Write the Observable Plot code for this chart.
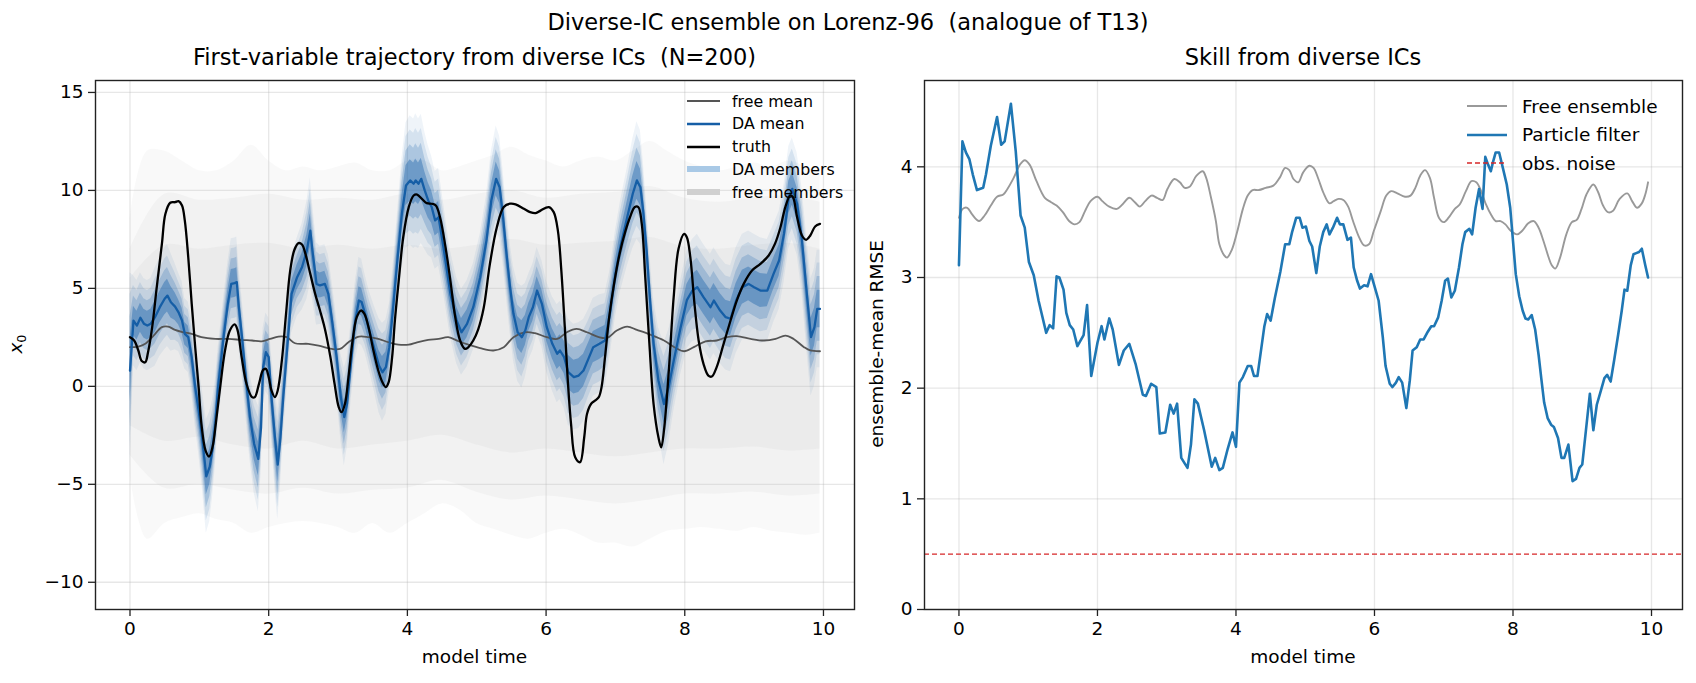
<!DOCTYPE html>
<html>
<head>
<meta charset="utf-8">
<script src="https://cdn.jsdelivr.net/npm/d3@7"></script>
<script src="https://cdn.jsdelivr.net/npm/@observablehq/plot@0.6"></script>
<style>
  body { margin: 0; background: #fff; font-family: "DejaVu Sans", sans-serif; }
  #fig { position: relative; width: 1696px; height: 683px; overflow: hidden; background: #fff; }
  #fig svg.panel { position: absolute; top: 0; }
  .txt { position: absolute; white-space: pre; color: #000; line-height: 1; transform: translate(-50%, -50%); }
  .rot { transform: translate(-50%, -50%) rotate(-90deg); }
  .leg { position: absolute; display: flex; align-items: center; height: 24px; white-space: pre; color: #000; }
  .leg svg { display: block; }
</style>
</head>
<body>
<div id="fig"></div>
<script>
// ---------- Lorenz-96 first variable: truth, DA ensemble, free ensemble ----------
// [time, value]
const truth = [[0,2.51],[0.06,2.34],[0.12,1.83],[0.17,1.29],[0.22,1.23],[0.26,1.74],[0.32,3.02],[0.38,4.89],[0.46,7.27],[0.51,8.80],[0.58,9.37],[0.65,9.40],[0.70,9.45],[0.75,9.23],[0.79,8.47],[0.84,6.59],[0.89,4.21],[0.94,2.00],[0.99,-0.05],[1.03,-1.92],[1.09,-3.28],[1.14,-3.58],[1.19,-3.10],[1.24,-1.83],[1.30,-0.05],[1.37,1.83],[1.44,2.85],[1.51,3.16],[1.55,2.88],[1.61,1.49],[1.68,0.13],[1.76,-0.55],[1.80,-0.55],[1.86,0.13],[1.92,0.84],[1.96,0.89],[2.00,0.47],[2.04,-0.21],[2.09,-0.55],[2.13,-0.21],[2.19,1.32],[2.25,3.70],[2.31,5.91],[2.37,6.96],[2.43,7.31],[2.48,7.24],[2.53,6.76],[2.60,5.74],[2.67,4.72],[2.74,3.87],[2.81,2.94],[2.89,1.49],[2.95,0.13],[3.01,-1.06],[3.05,-1.32],[3.10,-0.89],[3.15,0.47],[3.21,2.34],[3.27,3.53],[3.33,3.87],[3.38,3.70],[3.44,3.02],[3.51,1.83],[3.58,0.81],[3.64,0.21],[3.69,-0.04],[3.73,0.21],[3.78,1.49],[3.82,3.36],[3.88,5.57],[3.94,7.61],[4.02,9.15],[4.09,9.74],[4.14,9.79],[4.21,9.57],[4.28,9.35],[4.35,9.32],[4.41,9.23],[4.47,8.64],[4.55,7.10],[4.62,5.40],[4.69,3.53],[4.76,2.34],[4.83,1.91],[4.88,2.00],[4.95,2.34],[5.02,2.90],[5.10,4.00],[5.19,6.25],[5.29,8.12],[5.39,9.15],[5.48,9.32],[5.56,9.29],[5.68,9.06],[5.77,8.89],[5.85,8.84],[5.92,8.97],[6.04,9.15],[6.11,8.89],[6.17,7.95],[6.22,5.91],[6.27,3.02],[6.31,0.47],[6.36,-1.91],[6.42,-3.62],[6.49,-3.87],[6.55,-2.60],[6.59,-1.41],[6.65,-0.89],[6.71,-0.72],[6.76,-0.55],[6.80,-0.04],[6.85,1.49],[6.91,3.53],[6.98,5.23],[7.06,6.76],[7.14,7.87],[7.21,8.63],[7.28,9.15],[7.33,9.15],[7.38,8.29],[7.43,5.57],[7.49,2.17],[7.55,-0.89],[7.62,-2.60],[7.66,-3.11],[7.70,-2.25],[7.77,0.81],[7.84,4.55],[7.91,7.02],[7.99,7.78],[8.03,7.61],[8.08,6.59],[8.14,4.21],[8.20,2.34],[8.27,1.15],[8.34,0.55],[8.39,0.50],[8.46,0.98],[8.56,2.17],[8.66,3.36],[8.75,4.38],[8.85,5.23],[8.97,5.91],[9.09,6.25],[9.21,6.68],[9.30,7.27],[9.38,8.12],[9.45,9.15],[9.52,9.74],[9.56,9.65],[9.62,8.63],[9.69,7.70],[9.75,7.48],[9.81,7.70],[9.88,8.16],[9.95,8.29]];

// [time, DA ensemble mean, DA member half-spread]
const daTrack = [[0,0.8,5.0],[0.05,3.35,2.3],[0.10,3.10,2.3],[0.15,3.50,2.3],[0.20,3.20,2.3],[0.25,3.10,2.3],[0.30,3.20,2.3],[0.36,3.53,2.5],[0.43,4.04,2.5],[0.50,4.47,2.6],[0.54,4.63,2.6],[0.59,4.29,2.5],[0.65,4.07,2.2],[0.70,3.78,2.0],[0.75,3.36,2.0],[0.79,2.68,1.8],[0.84,2.51,1.8],[0.89,1.49,1.9],[0.94,-0.04,2.0],[0.99,-1.23,2.2],[1.04,-2.60,2.5],[1.10,-4.60,2.9],[1.15,-4.10,2.8],[1.19,-3.20,2.5],[1.23,-1.92,2.2],[1.27,-0.04,2.0],[1.35,2.51,2.0],[1.41,4.21,2.1],[1.46,5.23,2.3],[1.51,5.27,2.3],[1.54,5.32,2.3],[1.57,4.04,2.1],[1.62,2.34,2.0],[1.67,0.47,2.0],[1.73,-1.57,2.2],[1.79,-2.94,2.5],[1.85,-3.70,2.7],[1.89,-2.09,2.4],[1.92,0.98,2.0],[1.96,1.74,2.0],[2.00,1.49,2.0],[2.04,-0.55,2.2],[2.09,-2.60,2.6],[2.13,-4.00,2.8],[2.17,-2.60,2.5],[2.21,-0.55,2.1],[2.28,2.51,2.0],[2.33,4.72,2.0],[2.41,5.57,2.0],[2.48,6.08,2.2],[2.55,6.93,2.5],[2.60,7.95,2.7],[2.63,6.93,2.5],[2.69,5.23,2.1],[2.74,5.15,2.0],[2.81,5.23,2.0],[2.86,4.72,2.0],[2.92,3.19,2.0],[2.98,1.49,2.0],[3.04,-0.55,2.2],[3.09,-1.57,2.5],[3.13,-0.89,2.3],[3.19,1.32,2.0],[3.25,3.36,2.0],[3.30,4.38,2.2],[3.34,4.30,2.2],[3.39,3.70,2.0],[3.45,2.85,2.0],[3.53,1.83,2.2],[3.59,1.06,2.4],[3.64,0.72,2.5],[3.69,0.98,2.4],[3.74,2.00,2.2],[3.80,4.21,2.2],[3.86,6.59,2.4],[3.92,8.80,2.8],[3.98,10.25,3.2],[4.04,10.51,3.3],[4.09,10.34,3.3],[4.12,10.51,3.4],[4.16,10.34,3.3],[4.20,10.59,3.3],[4.25,10.00,3.0],[4.30,9.49,2.8],[4.35,9.15,2.6],[4.40,8.47,2.5],[4.45,8.63,2.5],[4.52,7.10,2.3],[4.62,4.72,2.2],[4.71,3.36,2.2],[4.78,2.76,2.2],[4.86,3.19,2.2],[4.95,4.04,2.2],[5.05,5.57,2.2],[5.14,7.44,2.3],[5.21,9.48,2.5],[5.28,10.59,2.7],[5.33,10.16,2.6],[5.38,8.63,2.4],[5.43,6.76,2.3],[5.48,5.06,2.3],[5.53,3.70,2.4],[5.59,2.76,2.5],[5.65,2.51,2.6],[5.70,2.85,2.4],[5.75,3.53,2.2],[5.81,4.04,2.2],[5.87,4.89,2.2],[5.94,4.21,2.2],[6.01,3.02,2.3],[6.09,2.17,2.4],[6.16,1.66,2.5],[6.20,1.83,2.5],[6.26,1.49,2.6],[6.32,0.72,2.7],[6.40,0.47,2.7],[6.47,0.55,2.7],[6.54,0.81,2.6],[6.61,1.40,2.5],[6.68,2.00,2.5],[6.77,2.17,2.5],[6.85,2.34,2.4],[6.92,3.70,2.2],[7.00,5.74,2.2],[7.07,7.10,2.3],[7.17,8.63,2.5],[7.25,9.83,2.8],[7.31,10.51,3.0],[7.36,10.16,2.9],[7.40,8.97,2.6],[7.45,6.93,2.3],[7.50,4.38,2.2],[7.55,2.17,2.3],[7.62,0.30,2.7],[7.70,-0.90,3.1],[7.77,0.00,2.9],[7.84,1.30,2.6],[7.94,3.00,2.4],[8.03,4.40,2.5],[8.11,4.89,2.6],[8.18,5.06,2.7],[8.27,4.55,2.7],[8.37,4.04,2.7],[8.42,4.38,2.7],[8.51,3.87,2.7],[8.59,3.53,2.7],[8.66,3.45,2.7],[8.74,4.38,2.7],[8.83,5.06,2.7],[8.92,5.23,2.7],[9.00,5.06,2.7],[9.09,4.89,2.7],[9.19,4.89,2.6],[9.28,5.74,2.5],[9.36,6.42,2.5],[9.43,7.78,2.5],[9.50,9.65,2.6],[9.55,10.08,2.6],[9.62,9.31,2.6],[9.69,7.44,2.7],[9.76,4.72,2.9],[9.82,2.51,3.0],[9.87,3.02,3.0],[9.91,3.95,3.0],[9.95,3.95,3.0]];

// [time, value]
const freeMean = [[0,2.00],[0.12,2.03],[0.22,2.17],[0.34,2.59],[0.46,3.02],[0.55,3.05],[0.65,2.88],[0.77,2.76],[0.89,2.68],[1.03,2.51],[1.23,2.42],[1.42,2.42],[1.61,2.37],[1.76,2.34],[1.90,2.30],[2.02,2.42],[2.14,2.54],[2.26,2.51],[2.38,2.20],[2.57,2.17],[2.72,2.08],[2.91,1.91],[3.03,1.91],[3.15,2.25],[3.30,2.54],[3.44,2.51],[3.58,2.42],[3.73,2.25],[3.87,2.13],[4.02,2.13],[4.14,2.25],[4.30,2.37],[4.45,2.42],[4.59,2.51],[4.74,2.30],[4.88,2.13],[5.05,1.95],[5.24,1.83],[5.39,2.00],[5.53,2.51],[5.70,2.76],[5.84,2.71],[6.01,2.51],[6.16,2.42],[6.30,2.76],[6.44,2.93],[6.59,2.76],[6.76,2.51],[6.88,2.47],[7.02,2.85],[7.17,3.05],[7.31,2.88],[7.50,2.64],[7.70,2.34],[7.87,1.96],[7.99,1.79],[8.13,2.00],[8.30,2.30],[8.46,2.34],[8.61,2.51],[8.75,2.56],[8.95,2.42],[9.14,2.34],[9.31,2.42],[9.45,2.59],[9.57,2.42],[9.72,2.00],[9.81,1.83],[9.95,1.79]];

// free-member cloud: [time, low, high] for the faint outer, denser middle and dense core
const freeOuter = [[0,-4.5,8.5],[0.25,-7.8,12.0],[0.5,-7.0,12.0],[0.75,-6.7,11.5],[1.0,-6.5,11.0],[1.25,-6.8,11.0],[1.5,-7.0,11.5],[1.75,-7.5,12.3],[2.0,-7.2,11.5],[2.25,-7.0,11.0],[2.5,-6.9,11.2],[2.75,-7.0,11.0],[3.0,-7.2,11.2],[3.25,-7.5,11.4],[3.5,-7.0,11.0],[3.75,-7.5,11.0],[4.0,-7.0,11.5],[4.25,-6.5,11.5],[4.5,-6.0,11.0],[4.75,-6.3,11.2],[5.0,-7.0,11.5],[5.25,-7.3,11.8],[5.5,-7.6,12.2],[5.75,-7.8,11.8],[6.0,-7.5,11.5],[6.25,-7.3,11.2],[6.5,-7.6,11.5],[6.75,-8.0,11.7],[7.0,-8.0,11.5],[7.25,-8.2,12.0],[7.5,-7.8,12.5],[7.75,-7.4,12.0],[8.0,-7.3,11.5],[8.25,-7.2,11.2],[8.5,-7.3,11.0],[8.75,-7.4,11.2],[9.0,-7.2,11.4],[9.25,-7.4,11.2],[9.5,-7.5,11.5],[9.75,-7.6,11.2],[9.95,-7.5,11.0]];
const freeMid = [[0,-3.5,7.0],[0.5,-5.2,9.8],[1,-5.0,9.5],[1.5,-5.3,9.6],[2,-5.5,9.8],[2.5,-5.2,9.5],[3,-5.5,9.6],[3.5,-5.3,9.5],[4,-5.2,9.8],[4.5,-4.8,9.5],[5,-5.4,9.8],[5.5,-5.8,10.0],[6,-5.6,9.6],[6.5,-5.8,9.8],[7,-6.0,9.9],[7.5,-5.8,10.2],[8,-5.5,9.6],[8.5,-5.5,9.4],[9,-5.4,9.6],[9.5,-5.6,9.7],[9.95,-5.5,9.4]];
const freeCore = [[0,-2.0,5.5],[0.5,-2.8,7.2],[1,-2.6,7.0],[1.5,-3.0,7.2],[2,-3.2,7.3],[2.5,-2.8,7.0],[3,-3.2,7.2],[3.5,-3.0,7.0],[4,-2.8,7.2],[4.5,-2.5,7.0],[5,-3.0,7.2],[5.5,-3.4,7.5],[6,-3.2,7.2],[6.5,-3.4,7.3],[7,-3.6,7.4],[7.5,-3.4,7.6],[8,-3.2,7.1],[8.5,-3.2,7.0],[9,-3.1,7.2],[9.5,-3.3,7.3],[9.95,-3.2,7.0]];

// ---------- ensemble-mean RMSE ----------
const rmseFree = [[0,3.54],[0.055,3.62],[0.12,3.63],[0.19,3.57],[0.29,3.51],[0.37,3.56],[0.46,3.65],[0.55,3.73],[0.64,3.75],[0.70,3.80],[0.79,3.90],[0.88,4.02],[0.95,4.06],[1.02,4.02],[1.12,3.87],[1.24,3.72],[1.33,3.68],[1.41,3.65],[1.50,3.59],[1.59,3.51],[1.67,3.48],[1.74,3.50],[1.82,3.60],[1.90,3.69],[2.00,3.73],[2.07,3.69],[2.17,3.64],[2.28,3.62],[2.36,3.66],[2.46,3.72],[2.54,3.68],[2.61,3.64],[2.69,3.69],[2.78,3.74],[2.86,3.72],[2.94,3.70],[3.01,3.80],[3.11,3.89],[3.19,3.86],[3.26,3.81],[3.33,3.82],[3.43,3.92],[3.52,3.96],[3.57,3.90],[3.64,3.72],[3.71,3.51],[3.76,3.30],[3.83,3.20],[3.87,3.18],[3.94,3.25],[4.02,3.42],[4.10,3.62],[4.17,3.74],[4.24,3.79],[4.33,3.79],[4.43,3.81],[4.54,3.83],[4.63,3.90],[4.71,3.99],[4.77,3.97],[4.83,3.89],[4.90,3.86],[4.97,3.95],[5.06,4.01],[5.12,3.99],[5.19,3.89],[5.26,3.77],[5.35,3.67],[5.41,3.69],[5.48,3.71],[5.55,3.70],[5.62,3.64],[5.69,3.51],[5.78,3.36],[5.85,3.29],[5.92,3.30],[5.99,3.42],[6.09,3.60],[6.17,3.74],[6.24,3.78],[6.33,3.76],[6.44,3.73],[6.52,3.74],[6.59,3.81],[6.66,3.92],[6.73,3.97],[6.80,3.90],[6.86,3.72],[6.93,3.54],[7.00,3.50],[7.07,3.54],[7.16,3.62],[7.23,3.66],[7.32,3.78],[7.40,3.87],[7.47,3.86],[7.54,3.78],[7.61,3.66],[7.69,3.56],[7.75,3.51],[7.82,3.51],[7.89,3.48],[7.97,3.42],[8.06,3.39],[8.13,3.42],[8.22,3.49],[8.30,3.51],[8.37,3.45],[8.44,3.33],[8.51,3.19],[8.56,3.11],[8.61,3.08],[8.68,3.18],[8.77,3.39],[8.85,3.50],[8.92,3.52],[8.99,3.62],[9.06,3.75],[9.16,3.84],[9.23,3.77],[9.30,3.65],[9.37,3.59],[9.44,3.60],[9.54,3.71],[9.65,3.76],[9.72,3.69],[9.79,3.63],[9.86,3.67],[9.91,3.75],[9.95,3.86]];

const rmsePF = [[0,3.11],[0.05,4.23],[0.10,4.13],[0.15,4.07],[0.20,3.93],[0.26,3.79],[0.35,3.81],[0.39,3.93],[0.46,4.19],[0.55,4.45],[0.61,4.20],[0.66,4.23],[0.75,4.57],[0.82,4.14],[0.89,3.56],[0.95,3.45],[1.01,3.14],[1.08,3.02],[1.15,2.79],[1.26,2.50],[1.31,2.57],[1.36,2.54],[1.41,3.01],[1.45,3.00],[1.51,2.89],[1.55,2.68],[1.60,2.57],[1.65,2.53],[1.71,2.38],[1.80,2.48],[1.85,2.75],[1.91,2.11],[2.00,2.41],[2.06,2.56],[2.10,2.44],[2.17,2.63],[2.22,2.53],[2.31,2.21],[2.38,2.34],[2.46,2.40],[2.55,2.22],[2.655,1.94],[2.70,1.93],[2.775,2.04],[2.85,2.01],[2.90,1.59],[2.98,1.60],[3.05,1.85],[3.10,1.77],[3.15,1.86],[3.21,1.37],[3.30,1.28],[3.35,1.49],[3.40,1.90],[3.45,1.86],[3.54,1.62],[3.65,1.29],[3.70,1.37],[3.76,1.26],[3.81,1.28],[3.88,1.45],[3.95,1.60],[4.00,1.47],[4.05,2.05],[4.10,2.10],[4.17,2.20],[4.22,2.20],[4.26,2.11],[4.31,2.11],[4.35,2.29],[4.41,2.56],[4.45,2.67],[4.50,2.61],[4.56,2.81],[4.64,3.05],[4.71,3.30],[4.77,3.30],[4.81,3.41],[4.87,3.54],[4.92,3.54],[4.96,3.45],[5.01,3.46],[5.06,3.33],[5.10,3.28],[5.16,3.04],[5.21,3.28],[5.26,3.41],[5.31,3.48],[5.35,3.39],[5.40,3.45],[5.46,3.54],[5.50,3.48],[5.55,3.48],[5.61,3.34],[5.66,3.36],[5.70,3.09],[5.75,2.97],[5.79,2.90],[5.85,2.93],[5.90,2.92],[5.95,3.03],[6.01,2.90],[6.06,2.79],[6.12,2.46],[6.16,2.20],[6.22,2.04],[6.26,2.01],[6.31,2.05],[6.35,2.10],[6.40,2.05],[6.46,1.82],[6.51,2.07],[6.55,2.34],[6.61,2.37],[6.66,2.44],[6.71,2.44],[6.77,2.51],[6.82,2.56],[6.86,2.56],[6.92,2.64],[6.97,2.79],[7.02,2.97],[7.06,2.99],[7.11,2.82],[7.16,2.88],[7.22,3.09],[7.27,3.30],[7.31,3.41],[7.37,3.44],[7.41,3.39],[7.46,3.63],[7.51,3.80],[7.56,3.62],[7.60,4.09],[7.64,4.02],[7.68,3.96],[7.71,4.04],[7.75,4.13],[7.80,4.13],[7.85,4.00],[7.91,3.84],[7.96,3.63],[8.00,3.33],[8.04,3.03],[8.09,2.83],[8.14,2.70],[8.18,2.63],[8.22,2.62],[8.27,2.66],[8.32,2.53],[8.37,2.30],[8.41,2.08],[8.45,1.87],[8.50,1.73],[8.55,1.67],[8.59,1.65],[8.65,1.55],[8.70,1.37],[8.74,1.37],[8.80,1.49],[8.86,1.16],[8.91,1.18],[8.96,1.28],[9.00,1.31],[9.11,1.95],[9.16,1.62],[9.21,1.85],[9.27,1.98],[9.32,2.09],[9.36,2.12],[9.41,2.06],[9.46,2.25],[9.52,2.49],[9.57,2.70],[9.61,2.89],[9.65,2.88],[9.70,3.11],[9.74,3.21],[9.78,3.22],[9.82,3.23],[9.86,3.26],[9.91,3.11],[9.95,3.00]];

const obsNoise = 0.5;

// tick values
const xTicks = [0, 2, 4, 6, 8, 10];
const leftYTicks = [-10, -5, 0, 5, 10, 15];
const rightYTicks = [0, 1, 2, 3, 4];

// ---------- helpers ----------
const fig = document.getElementById("fig");
const FONT = "DejaVu Sans";
const pair = (a) => a.map(([t, v]) => ({t, v}));
const band = (a) => a.map(([t, lo, hi]) => ({t, lo, hi}));
const daRows = daTrack.map(([t, m, s]) => ({t, m, s}));
const daLayer = (k) => daRows.map(d => ({t: d.t, lo: d.m - k * d.s, hi: d.m + k * d.s}));
const intFmt = d3.format("~g");

const X_DOMAIN = [-0.4975, 10.4475];
const gridStyle = {stroke: "#b0b0b0", strokeOpacity: 0.3, strokeWidth: 1.3};
const axisStyle = {tickSize: 7, tickPadding: 5, stroke: "#222", strokeWidth: 1.3, label: null, tickFormat: intFmt};
const plotStyle = {fontFamily: FONT, fontSize: "18.5px", color: "#000", background: "transparent", overflow: "visible"};

function addText(str, x, y, size, cls = "txt", html = false) {
  const d = document.createElement("div");
  d.className = cls;
  d.style.left = x + "px";
  d.style.top = y + "px";
  d.style.fontSize = size + "px";
  if (html) d.innerHTML = str; else d.textContent = str;
  fig.appendChild(d);
}

function addLegend(entries, x0, y0, step, handleLen, gap, size) {
  entries.forEach((e, i) => {
    const row = document.createElement("div");
    row.className = "leg";
    row.style.left = x0 + "px";
    row.style.top = (y0 + i * step - 12) + "px";
    row.style.fontSize = size + "px";
    const dash = e.dash ? ` stroke-dasharray="${e.dash}"` : "";
    row.innerHTML = `<svg width="${handleLen}" height="24"><line x1="0" x2="${handleLen}" y1="12" y2="12" stroke="${e.color}" stroke-width="${e.width}"${dash}/></svg><span style="margin-left:${gap}px">${e.label}</span>`;
    fig.appendChild(row);
  });
}

// ---------- left panel: trajectories ----------
const DA_FILL = "#1a62ab";
const FREE_FILL = "#bdbdbd";
// DA member spread drawn as nested bands, densest next to the mean
const daLayers = [[1.0, 0.07], [0.78, 0.12], [0.55, 0.22], [0.32, 0.4]];
const left = Plot.plot({
  width: 870, height: 683,
  marginLeft: 95, marginRight: 16, marginTop: 80, marginBottom: 74,
  x: {domain: X_DOMAIN},
  y: {domain: [-11.39, 15.61]},
  style: plotStyle,
  marks: [
    Plot.gridX(xTicks, gridStyle),
    Plot.gridY(leftYTicks, gridStyle),
    Plot.areaY(band(freeOuter), {x: "t", y1: "lo", y2: "hi", fill: FREE_FILL, fillOpacity: 0.09, curve: "catmull-rom"}),
    Plot.areaY(band(freeMid), {x: "t", y1: "lo", y2: "hi", fill: FREE_FILL, fillOpacity: 0.11, curve: "catmull-rom"}),
    Plot.areaY(band(freeCore), {x: "t", y1: "lo", y2: "hi", fill: FREE_FILL, fillOpacity: 0.12, curve: "catmull-rom"}),
    ...daLayers.map(([k, op]) => Plot.areaY(daLayer(k), {x: "t", y1: "lo", y2: "hi", fill: DA_FILL, fillOpacity: op})),
    Plot.line(pair(freeMean), {x: "t", y: "v", stroke: "#555555", strokeWidth: 1.8, curve: "catmull-rom"}),
    Plot.line(daRows, {x: "t", y: "m", stroke: "#155ea6", strokeWidth: 2.3}),
    Plot.line(pair(truth), {x: "t", y: "v", stroke: "#000", strokeWidth: 2.3, curve: "catmull-rom"}),
    Plot.frame({stroke: "#222", strokeWidth: 1.4}),
    Plot.axisX(xTicks, axisStyle),
    Plot.axisY(leftYTicks, axisStyle)
  ]
});
left.classList.add("panel");
left.style.left = "0px";
fig.appendChild(left);

// ---------- right panel: skill ----------
const right = Plot.plot({
  width: 826, height: 683,
  marginLeft: 54, marginRight: 14, marginTop: 80, marginBottom: 74,
  x: {domain: X_DOMAIN},
  y: {domain: [0, 4.78]},
  style: plotStyle,
  marks: [
    Plot.gridX(xTicks, gridStyle),
    Plot.gridY(rightYTicks, gridStyle),
    Plot.line(pair(rmseFree), {x: "t", y: "v", stroke: "#999999", strokeWidth: 1.9, curve: "catmull-rom"}),
    Plot.line(pair(rmsePF), {x: "t", y: "v", stroke: "#1f77b4", strokeWidth: 2.6}),
    Plot.ruleY([obsNoise], {stroke: "#d62728", strokeWidth: 1.3, strokeDasharray: "5,3"}),
    Plot.frame({stroke: "#222", strokeWidth: 1.4}),
    Plot.axisX(xTicks, axisStyle),
    Plot.axisY(rightYTicks, axisStyle)
  ]
});
right.classList.add("panel");
right.style.left = "870px";
fig.appendChild(right);

// ---------- titles and axis labels ----------
addText("Diverse-IC ensemble on Lorenz-96  (analogue of T13)", 848, 22, 22.5);
addText("First-variable trajectory from diverse ICs  (N=200)", 474.5, 57, 22.5);
addText("Skill from diverse ICs", 1303, 57, 22.5);
addText("model time", 474.5, 657, 18.5);
addText("model time", 1303, 657, 18.5);
addText('<i>x</i><sub style="font-size:70%">0</sub>', 18, 344, 18.5, "txt rot", true);
addText("ensemble-mean RMSE", 877, 344, 18.5, "txt rot");

// ---------- legends ----------
addLegend([
  {label: "free mean", color: "#555555", width: 1.8},
  {label: "DA mean", color: "#155ea6", width: 2.3},
  {label: "truth", color: "#000", width: 2.3},
  {label: "DA members", color: "#a9c9e6", width: 6},
  {label: "free members", color: "#d0d0d0", width: 6}
], 687, 101, 22.8, 33, 12, 15.8);

addLegend([
  {label: "Free ensemble", color: "#999999", width: 1.9},
  {label: "Particle filter", color: "#1f77b4", width: 2.6},
  {label: "obs. noise", color: "#d62728", width: 1.3, dash: "5,3"}
], 1467, 106, 28.7, 40, 15, 18.5);
</script>
</body>
</html>
